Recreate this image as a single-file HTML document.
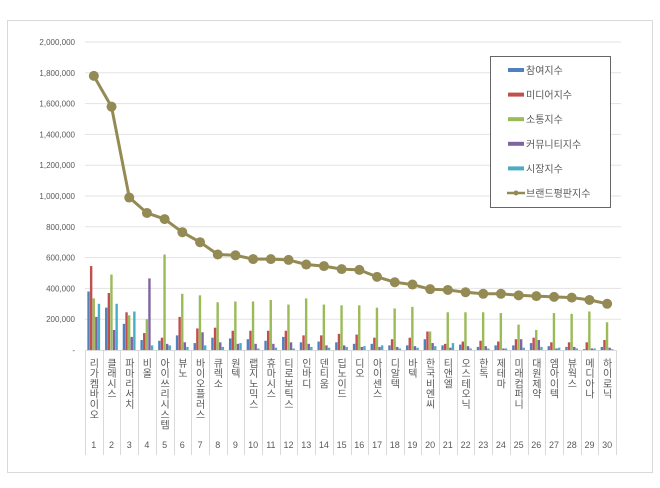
<!DOCTYPE html>
<html><head><meta charset="utf-8"><style>
body{margin:0;background:#fff;}
#w{position:relative;width:660px;height:488px;overflow:hidden;font-family:"Liberation Sans","Noto Sans CJK KR",sans-serif;}
.v{position:absolute;top:358px;writing-mode:vertical-rl;text-orientation:upright;font-size:10px;color:#595959;letter-spacing:0.3px;font-family:"Noto Sans CJK KR",sans-serif;line-height:10px;width:10px;}
.n{position:absolute;top:440px;width:18px;text-align:center;font-size:9px;color:#595959;}
</style></head><body><div id="w">
<svg width="660" height="488" style="position:absolute;left:0;top:0">
<rect x="7.5" y="20.5" width="645" height="452" fill="#fff" stroke="#d9d9d9"/>
<g id="g"></g>
</svg>
<div id="lab"></div>
</div>
<script>
var ns="http://www.w3.org/2000/svg",g=document.getElementById('g');
function el(t,a,txt){var e=document.createElementNS(ns,t);for(var k in a)e.setAttribute(k,a[k]);if(txt!=null)e.textContent=txt;g.appendChild(e);return e;}
var y0=350,sc=308/2000000,x0=85,cw=17.7;
function Y(v){return y0-v*sc;}
for(var i=0;i<=10;i++){var v=i*200000,y=Y(v);
 if(i>0)el('line',{x1:85,x2:621,y1:y,y2:y,stroke:'#e3e3e3','stroke-width':1});
 el('text',{x:75,y:y+3,'text-anchor':'end','font-size':8,fill:'#595959','font-family':'Liberation Sans'},i==0?'-':v.toLocaleString('en-US'));}
el('line',{x1:85,x2:617,y1:350.5,y2:350.5,stroke:'#d9d9d9'});
for(var i=0;i<=30;i++){var x=Math.round(x0+i*cw)+0.5;el('line',{x1:x,x2:x,y1:350,y2:455,stroke:'#d9d9d9'});}
var B=[[380,545,335,215,300],[275,370,490,130,300],[170,245,225,85,250],[65,110,200,465,30],[60,80,620,40,30],[95,215,365,50,20],[45,140,355,115,30],[80,145,310,50,20],[75,125,315,40,45],[70,125,315,40,10],[60,125,325,40,15],[85,125,295,50,10],[50,95,335,40,20],[55,95,295,30,15],[50,105,290,30,20],[40,100,290,20,25],[40,80,275,20,30],[30,70,270,20,10],[30,80,280,25,15],[70,120,120,45,25],[30,40,245,15,45],[35,55,245,25,10],[20,60,245,25,10],[30,55,240,10,10],[30,70,165,70,15],[45,80,130,65,20],[25,50,240,10,15],[20,50,235,20,10],[5,50,250,10,10],[20,65,180,15,5]];
var C=['#4F81BD','#C0504D','#9BBB59','#8064A2','#4BACC6'];
var L=[1780,1580,990,890,850,765,700,620,615,590,590,585,555,545,525,520,475,440,425,395,390,375,365,365,355,350,345,340,325,300];
B.forEach(function(b,i){var cx=x0+cw*(i+0.5);b.forEach(function(v,j){var h=v*1000*sc;el('rect',{x:cx-6.5+j*2.6,y:y0-h,width:2.4,height:h,fill:C[j]});});});
var pts=L.map(function(v,i){return (x0+cw*(i+0.5)).toFixed(1)+','+Y(v*1000).toFixed(1);}).join(' ');
el('polyline',{points:pts,fill:'none',stroke:'#948A54','stroke-width':3,'stroke-linejoin':'round'});
L.forEach(function(v,i){el('circle',{cx:x0+cw*(i+0.5),cy:Y(v*1000),r:5,fill:'#948A54'});});
el('rect',{x:490.5,y:56.5,width:120,height:151,fill:'#fff',stroke:'#404040','stroke-width':0.8});
var LN=['참여지수','미디어지수','소통지수','커뮤니티지수','시장지수','브랜드평판지수'];
LN.forEach(function(t,j){var y=70+j*24.6;
 if(j<5)el('rect',{x:508,y:y-2,width:16,height:4,fill:C[j]});
 else{el('line',{x1:507,x2:525,y1:y,y2:y,stroke:'#948A54','stroke-width':2.5});el('circle',{cx:516,cy:y,r:2.5,fill:'#948A54'});}
 el('text',{x:526,y:y+4,'font-size':10,fill:'#595959','font-family':'Noto Sans CJK KR, sans-serif'},t);});
var N=['리가켐바이오','클래시스','파마리서치','비올','아이쓰리시스템','뷰노','바이오플러스','큐렉소','원텍','랩지노믹스','휴마시스','티로보틱스','인바디','덴티움','딥노이드','디오','아이센스','디알텍','바텍','한국비엔씨','티앤엘','오스테오닉','한독','제테마','미래컴퍼니','대원제약','엠아이텍','뷰웍스','메디아나','하이로닉'];
var h='';N.forEach(function(t,i){var cx=x0+cw*(i+0.5);h+='<div class="v" style="left:'+(cx-5).toFixed(1)+'px">'+t+'</div><div class="n" style="left:'+(cx-9).toFixed(1)+'px">'+(i+1)+'</div>';});
document.getElementById('lab').innerHTML=h;
</script>
</body></html>
